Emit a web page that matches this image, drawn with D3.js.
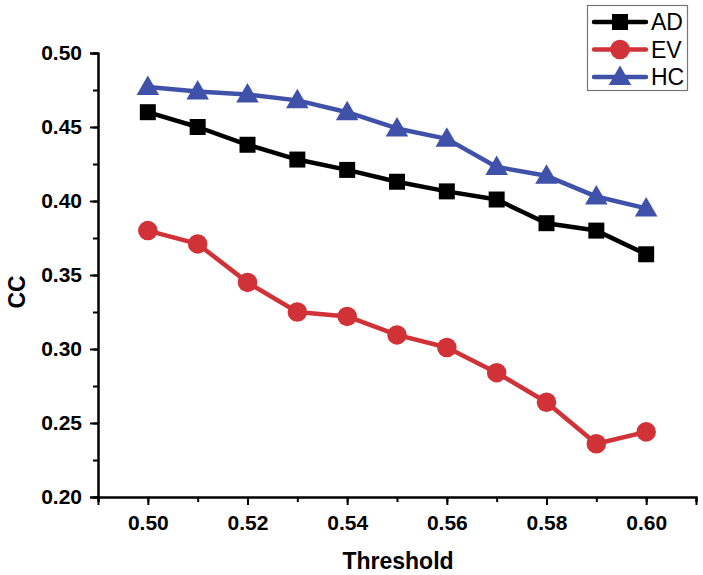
<!DOCTYPE html>
<html><head><meta charset="utf-8">
<script src="https://cdn.jsdelivr.net/npm/d3@7"></script>
<style>body{margin:0;background:#fff}svg{display:block}</style>
</head><body>
<svg id="chart" width="703" height="575"></svg>
<script>
const thresholds = [0.50,0.51,0.52,0.53,0.54,0.55,0.56,0.57,0.58,0.59,0.60];
const AD = [0.460,0.450,0.438,0.428,0.421,0.413,0.4065,0.401,0.385,0.380,0.364];
const EV = [0.380,0.371,0.345,0.325,0.322,0.3095,0.301,0.284,0.264,0.236,0.244];
const HC = [0.477,0.474,0.472,0.468,0.460,0.449,0.442,0.423,0.417,0.403,0.395];
const seriesNames = ["AD","EV","HC"];
const seriesColors = ["#000000","#d13237","#3f51a8"];
const xMajorTicks = [0.50,0.52,0.54,0.56,0.58,0.60];
const yMajorTicks = [0.20,0.25,0.30,0.35,0.40,0.45,0.50];

const svg = d3.select("#chart");
const font = "Arial, 'Liberation Sans', sans-serif";
const x = d3.scaleLinear().domain([0.49,0.61]).range([98,696]);
const y = d3.scaleLinear().domain([0.20,0.50]).range([497,53]);

const xMinor = d3.range(0,13).map(i=>+(0.49+i*0.01).toFixed(2));
const yMinor = d3.range(0,13).map(i=>+(0.20+i*0.025).toFixed(3));
const gx = svg.append("g").attr("transform","translate(0,497)");
gx.call(d3.axisBottom(x).tickValues(xMinor).tickSize(5).tickFormat(""));
gx.append("g").call(d3.axisBottom(x).tickValues(xMajorTicks).tickSize(8).tickPadding(10).tickFormat(d3.format(".2f")));
const gy = svg.append("g").attr("transform","translate(98,0)");
gy.call(d3.axisLeft(y).tickValues(yMinor).tickSize(5).tickFormat(""));
gy.append("g").call(d3.axisLeft(y).tickValues(yMajorTicks).tickSize(8).tickPadding(8).tickFormat(d3.format(".2f")));
svg.selectAll(".domain").attr("stroke","#000").attr("stroke-width",2);
svg.selectAll(".tick line").attr("stroke","#000").attr("stroke-width",2);
svg.selectAll(".tick text").attr("font-family",font).attr("font-size",21).attr("font-weight","bold").attr("fill","#000");
gx.select("g").select(".domain").remove();
gy.select("g").select(".domain").remove();

svg.append("text").attr("x",398).attr("y",569).attr("text-anchor","middle")
  .attr("font-family",font).attr("font-size",23).attr("font-weight","bold").text("Threshold");
svg.append("text").attr("transform","translate(25,292) rotate(-90)").attr("text-anchor","middle")
  .attr("font-family",font).attr("font-size",23).attr("font-weight","bold").text("CC");

const data = [AD,EV,HC];
const symbols = [d3.symbolSquare, d3.symbolCircle, d3.symbolTriangle];
const sizes = [256, 300, 220];
const line = d3.line().x((d,i)=>x(thresholds[i])).y(d=>y(d));
data.forEach((vals,k)=>{
  svg.append("path").datum(vals).attr("d",line).attr("fill","none")
    .attr("stroke",seriesColors[k]).attr("stroke-width",4.5).attr("stroke-linejoin","round");
  svg.append("g").selectAll("path").data(vals).join("path")
    .attr("d",d3.symbol().type(symbols[k]).size(sizes[k]))
    .attr("transform",(d,i)=>`translate(${x(thresholds[i])},${y(d) + (k===2?1.5:0)})`)
    .attr("fill",seriesColors[k]);
});

const lg = svg.append("g");
lg.append("rect").attr("x",587.5).attr("y",5.5).attr("width",100).attr("height",85)
  .attr("fill","#fff").attr("stroke","#777").attr("stroke-width",1.2);
seriesNames.forEach((n,k)=>{
  const yy = 22 + k*27.5;
  lg.append("line").attr("x1",594).attr("x2",646).attr("y1",yy).attr("y2",yy)
    .attr("stroke",seriesColors[k]).attr("stroke-width",4.5).attr("stroke-linecap","round");
  lg.append("path").attr("d",d3.symbol().type(symbols[k]).size(sizes[k]))
    .attr("transform",`translate(620,${yy + (k===2?1.5:0)})`).attr("fill",seriesColors[k]);
  lg.append("text").attr("x",651).attr("y",yy).attr("dy","0.36em")
    .attr("font-family",font).attr("font-size",23).attr("fill","#000").text(n);
});
</script>
</body></html>
